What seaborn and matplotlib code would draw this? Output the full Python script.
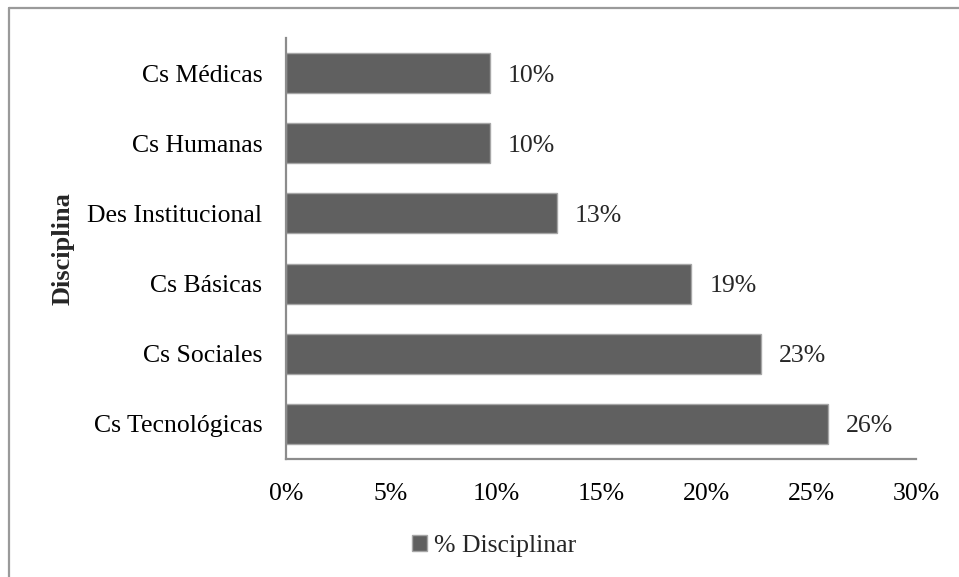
import matplotlib
matplotlib.use("Agg")
import matplotlib.pyplot as plt
from matplotlib.lines import Line2D
import seaborn as sns
import pandas as pd

categorias = ["Cs Médicas", "Cs Humanas", "Des Institucional", "Cs Básicas",
              "Cs Sociales", "Cs Tecnológicas"]
valores = [9.7, 9.7, 12.9, 19.3, 22.6, 25.8]
serie = "% Disciplinar"
xticks = [0, 5, 10, 15, 20, 25, 30]
xticklabels = ["0%", "5%", "10%", "15%", "20%", "25%", "30%"]

df = pd.DataFrame({"Disciplina": categorias, "valor": valores, "serie": serie})

sns.set_style("white")
plt.rcParams["font.family"] = ["Liberation Serif", "DejaVu Serif"]

W, H = 959, 577
fig = plt.figure(figsize=(W / 100, H / 100), dpi=100)
ax = fig.add_axes([286 / W, 1 - 459 / H, (916 - 286) / W, (459 - 38) / H])

sns.barplot(data=df, x="valor", y="Disciplina", hue="serie", palette=["#606060"],
            width=0.57, edgecolor="#a6a6a6", linewidth=1.0, ax=ax,
            orient="h", saturation=1)

ax.set_xlim(0, 30)
ax.set_ylim(5.5, -0.5)
ax.set_xticks(xticks)
ax.set_xticklabels(xticklabels)
ax.tick_params(axis="both", length=0, labelsize=18.5, colors="black")
ax.tick_params(axis="x", pad=17)
ax.tick_params(axis="y", pad=17)
ax.set_xlabel("")
ax.set_ylabel("Disciplina", fontsize=19, fontweight="bold", labelpad=9)

for s in ["top", "right"]:
    ax.spines[s].set_visible(False)
for s in ["left", "bottom"]:
    ax.spines[s].set_color("#8c8c8c")
    ax.spines[s].set_linewidth(1.6)

for cont in ax.containers:
    texts = ax.bar_label(cont, labels=[f"{v:.0f}%" for v in valores], padding=13,
                         fontsize=18.5)
    for t in texts:
        t.set_va("center_baseline")

ax.legend(loc="center", bbox_to_anchor=(494 / W, 1 - 546 / H),
          bbox_transform=fig.transFigure, frameon=False, fontsize=18.5,
          handlelength=0.6, handleheight=0.6, handletextpad=0.25)

# outer border (top and left visible)
fig.add_artist(Line2D([9 / W, 1.0], [1 - 8 / H, 1 - 8 / H], transform=fig.transFigure,
                      color="#9a9a9a", lw=1.6))
fig.add_artist(Line2D([9 / W, 9 / W], [0.0, 1 - 8 / H], transform=fig.transFigure,
                      color="#9a9a9a", lw=1.6))

fig.savefig("out.png", dpi=100)
